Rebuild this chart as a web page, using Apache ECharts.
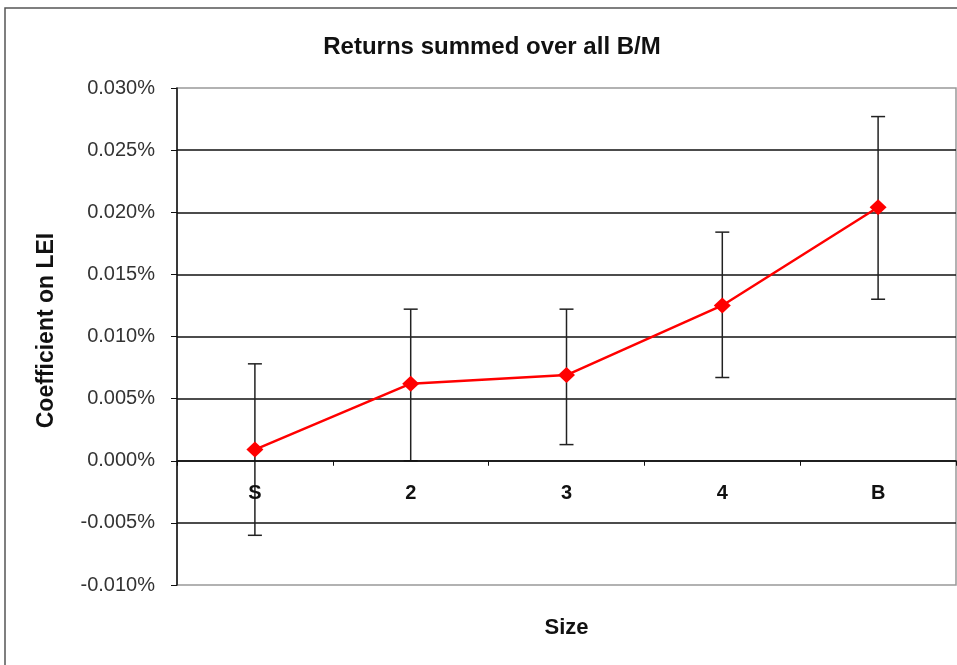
<!DOCTYPE html>
<html>
<head>
<meta charset="utf-8">
<script src="https://cdn.jsdelivr.net/npm/echarts@6/dist/echarts.min.js"></script>
<style>
  html, body { margin: 0; padding: 0; background: #fff; }
  #chart { width: 957px; height: 665px; }
</style>
</head>
<body>
<div id="chart"></div>
<script>
// Size groups on the category axis
const sizeLabels = ['S', '2', '3', '4', 'B'];
// Coefficient on LEI (in percent)
const coefValues = [0.0009, 0.0062, 0.0069, 0.0125, 0.0204];
// Error bar ends (in percent)
const upperBounds = [0.0078, 0.0122, 0.0122, 0.0184, 0.0277];
const lowerBounds = [-0.0060, 0.0000, 0.0013, 0.0067, 0.0130];
// Value axis range and step (in percent)
const yMin = -0.010;
const yMax = 0.030;
const yStep = 0.005;

const errorData = sizeLabels.map((c, i) => [i, lowerBounds[i], upperBounds[i]]);

// Plot box in pixels
const gridTop = 88;
const gridBottom = 80;
const plotHeight = 665 - gridTop - gridBottom;
// Lift the category axis from the bottom edge up to the zero line
const zeroLift = plotHeight * (0 - yMin) / (yMax - yMin);

const chart = echarts.init(document.getElementById('chart'), null, { renderer: 'canvas' });

chart.setOption({
  backgroundColor: '#fff',
  animation: false,
  title: {
    text: 'Returns summed over all B/M',
    left: 487,
    top: 30,
    textAlign: 'center',
    textStyle: {
      fontFamily: 'Liberation Sans, Arial, sans-serif',
      fontSize: 24,
      fontWeight: 'bold',
      color: '#111'
    }
  },
  graphic: [{
    type: 'rect',
    shape: { x: 5, y: 8, width: 1000, height: 1000 },
    style: { fill: 'none', stroke: '#555', lineWidth: 1.5 },
    silent: true,
    z: -1
  }],
  grid: {
    left: 177,
    right: 1,
    top: gridTop,
    bottom: gridBottom,
    containLabel: false,
    outerBoundsMode: 'none',
    show: true,
    borderColor: '#999',
    borderWidth: 1.5,
    backgroundColor: '#fff'
  },
  xAxis: {
    type: 'category',
    data: sizeLabels,
    boundaryGap: true,
    offset: -zeroLift,
    z: 5,
    name: 'Size',
    nameLocation: 'middle',
    nameGap: 156,
    nameTextStyle: {
      fontFamily: 'Liberation Sans, Arial, sans-serif',
      fontSize: 22,
      fontWeight: 'bold',
      color: '#111'
    },
    axisLine: { onZero: false, lineStyle: { color: '#111', width: 1.5 } },
    axisTick: { show: true, length: 5, inside: false, lineStyle: { color: '#111', width: 1 } },
    axisLabel: {
      margin: 23,
      fontFamily: 'Liberation Sans, Arial, sans-serif',
      fontSize: 20,
      fontWeight: 'bold',
      color: '#111'
    },
    splitLine: { show: false }
  },
  yAxis: {
    type: 'value',
    min: yMin,
    max: yMax,
    interval: yStep,
    name: 'Coefficient on LEI',
    nameLocation: 'middle',
    nameGap: 119,
    nameTextStyle: {
      fontFamily: 'Liberation Sans, Arial, sans-serif',
      fontSize: 23,
      fontWeight: 'bold',
      color: '#111',
      padding: [0, 0, 0, 12]
    },
    axisLine: { show: true, lineStyle: { color: '#111', width: 1.5 } },
    axisTick: { show: true, length: 6, lineStyle: { color: '#111', width: 1 } },
    axisLabel: {
      margin: 22,
      fontFamily: 'Liberation Sans, Arial, sans-serif',
      fontSize: 20,
      color: '#333',
      formatter: v => (Math.abs(v) < 1e-9 ? 0 : v).toFixed(3) + '%'
    },
    splitLine: {
      show: true,
      showMinLine: false,
      showMaxLine: false,
      lineStyle: { color: '#111', width: 1.5 }
    }
  },
  series: [
    {
      type: 'custom',
      name: 'range',
      data: errorData,
      z: 2,
      renderItem: (params, api) => {
        const x = api.value(0);
        const lo = api.coord([x, api.value(1)]);
        const hi = api.coord([x, api.value(2)]);
        const cap = 7;
        const style = { stroke: '#222', lineWidth: 1.5 };
        return {
          type: 'group',
          children: [
            { type: 'line', shape: { x1: hi[0], y1: hi[1], x2: lo[0], y2: lo[1] }, style },
            { type: 'line', shape: { x1: hi[0] - cap, y1: hi[1], x2: hi[0] + cap, y2: hi[1] }, style },
            { type: 'line', shape: { x1: lo[0] - cap, y1: lo[1], x2: lo[0] + cap, y2: lo[1] }, style }
          ]
        };
      }
    },
    {
      type: 'line',
      name: 'Coefficient on LEI',
      data: coefValues,
      z: 3,
      symbol: 'diamond',
      symbolSize: [17, 16],
      showAllSymbol: true,
      lineStyle: { color: '#ff0000', width: 2.5 },
      itemStyle: { color: '#ff0000' }
    }
  ]
});
</script>
</body>
</html>
